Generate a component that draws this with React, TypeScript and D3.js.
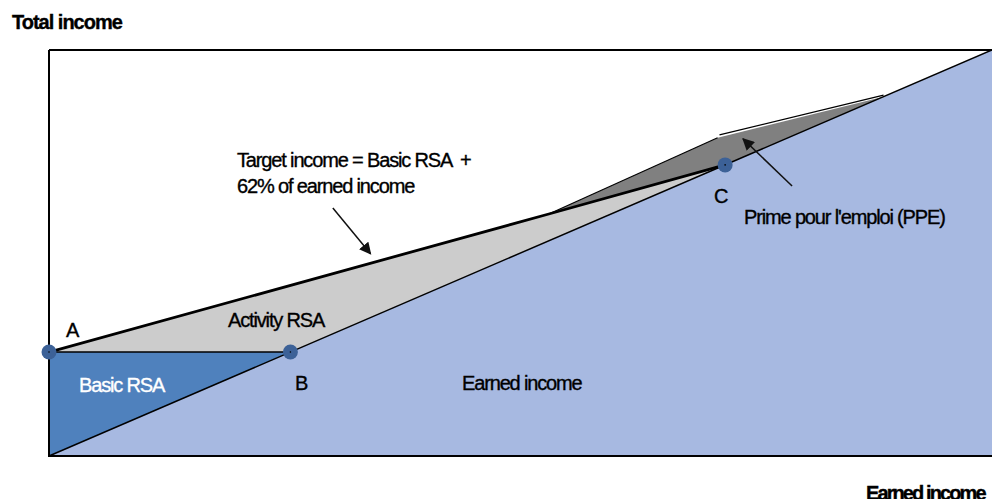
import React from "react";
import * as d3 from "d3";

// Earned income axis (x) and total income axis (y), arbitrary units 0..100
const xDomain = [0, 100];
const yDomain = [0, 100];

// Earned income line (total income = earned income)
const earnedLineX = [0, 100];
const earnedLineY = [0, 100];

// Basic RSA level
const basicRSA = 25.6;

// Target income line: A -> kink -> C
const targetX = [0, 53.0, 71.7];
const targetY = [25.6, 59.6, 71.7];

// PPE upper boundary
const ppeTopX = [53.0, 70.9, 88.5];
const ppeTopY = [59.6, 78.4, 88.5];
const ppeLineX = [71.1, 88.5];
const ppeLineY = [79.1, 88.9];

// Key points
const pointLabels = ["A", "B", "C"];
const pointX = [0, 25.6, 71.7];
const pointY = [25.6, 25.6, 71.7];

// Annotation arrows [x1,y1,x2,y2]
const arrowTarget = [30.1, 61.1, 34.1, 49.8];
const arrowPPE = [78.8, 66.5, 73.6, 78.1];

const W = 992;
const H = 499;
const FONT = "'Liberation Sans', Arial, sans-serif";

export default function App() {
  const x = d3.scaleLinear().domain(xDomain).range([49, 992]);
  const y = d3.scaleLinear().domain(yDomain).range([456, 50]);
  const line = d3
    .line<[number, number]>()
    .x((d) => x(d[0]))
    .y((d) => y(d[1]));
  const zip = (xs: number[], ys: number[]) =>
    xs.map((v, i) => [v, ys[i]] as [number, number]);

  const earnedArea: [number, number][] = [
    [earnedLineX[0], earnedLineY[0]],
    [earnedLineX[1], earnedLineY[1]],
    [xDomain[1], yDomain[0]],
  ];
  const basicArea: [number, number][] = [
    [0, basicRSA],
    [basicRSA, basicRSA],
    [0, 0],
  ];
  const activityArea: [number, number][] = [
    ...zip(targetX, targetY),
    [pointX[1], pointY[1]],
  ];
  const ppeArea: [number, number][] = [
    ...zip(ppeTopX, ppeTopY),
    [pointX[2], pointY[2]],
  ];

  const arrow = (a: number[], key: string) => (
    <line
      key={key}
      x1={x(a[0])}
      y1={y(a[1])}
      x2={x(a[2])}
      y2={y(a[3])}
      stroke="#111"
      strokeWidth={1.5}
      markerEnd="url(#ah)"
    />
  );

  const txt = {
    fontFamily: FONT,
    fontSize: 20,
    letterSpacing: -1.15,
    fill: "#000",
    stroke: "#000",
    strokeWidth: 0.35,
  } as const;

  return (
    <svg
      width={W}
      height={H}
      style={{ position: "absolute", left: 0, top: 0, background: "#fff" }}
    >
      <defs>
        <marker
          id="ah"
          viewBox="0 0 10 10"
          refX="9"
          refY="5"
          markerWidth="8"
          markerHeight="8"
          markerUnits="strokeWidth"
          orient="auto"
        >
          <path d="M0,0 L10,5 L0,10 z" fill="#111" />
        </marker>
      </defs>

      {/* areas */}
      <path d={line(earnedArea)! + "Z"} fill="#a7b9e1" />
      <path d={line(activityArea)! + "Z"} fill="#cccccc" />
      <path d={line(ppeArea)! + "Z"} fill="#808080" />
      <path d={line(basicArea)! + "Z"} fill="#4f81bd" />

      {/* frame */}
      <line x1={49} y1={50} x2={992} y2={50} stroke="#000" strokeWidth={2} />
      <line x1={49} y1={50} x2={49} y2={457} stroke="#000" strokeWidth={2} />
      <line x1={48} y1={456} x2={992} y2={456} stroke="#000" strokeWidth={2} />

      {/* lines */}
      <path
        d={line(zip(earnedLineX, earnedLineY))!}
        fill="none"
        stroke="#000"
        strokeWidth={1.5}
      />
      <path
        d={line([
          [0, basicRSA],
          [basicRSA, basicRSA],
        ])!}
        fill="none"
        stroke="#000"
        strokeWidth={1.5}
      />
      <path
        d={line(zip(ppeTopX.slice(0, 2), ppeTopY.slice(0, 2)))!}
        fill="none"
        stroke="#000"
        strokeWidth={1.2}
      />
      <path
        d={line(zip(ppeLineX, ppeLineY))!}
        fill="none"
        stroke="#000"
        strokeWidth={1.2}
      />
      <path
        d={line(zip(targetX, targetY))!}
        fill="none"
        stroke="#000"
        strokeWidth={2.8}
        strokeLinejoin="round"
      />

      {/* arrows */}
      {arrow(arrowTarget, "a1")}
      {arrow(arrowPPE, "a2")}

      {/* points */}
      {pointLabels.map((l, i) => (
        <g key={l}>
          <circle cx={x(pointX[i])} cy={y(pointY[i])} r={7.5} fill="#3c6197" />
          <circle cx={x(pointX[i])} cy={y(pointY[i])} r={0.8} fill="#000" />
        </g>
      ))}

      {/* labels */}
      <text x={12} y={29} {...txt} fontWeight="bold" fontSize={20} letterSpacing={-1.0}>
        Total income
      </text>
      <text x={866} y={500} {...txt} fontWeight="bold" fontSize={20} letterSpacing={-1.9}>
        Earned income
      </text>
      <text x={66} y={337} {...txt} letterSpacing={0}>
        A
      </text>
      <text x={295} y={390} {...txt} letterSpacing={0}>
        B
      </text>
      <text x={714} y={203} {...txt} letterSpacing={0}>
        C
      </text>
      <text x={79} y={392} {...txt} fill="#fff" stroke="#fff">
        Basic RSA
      </text>
      <text x={228} y={327} {...txt}>
        Activity RSA
      </text>
      <text x={462} y={390} {...txt}>
        Earned income
      </text>
      <text x={237} y={167} {...txt}>
        {"Target income = Basic RSA \u00a0+"}
      </text>
      <text x={237} y={193} {...txt}>
        62% of earned income
      </text>
      <text x={744} y={224} {...txt}>
        Prime pour l'emploi (PPE)
      </text>
    </svg>
  );
}
